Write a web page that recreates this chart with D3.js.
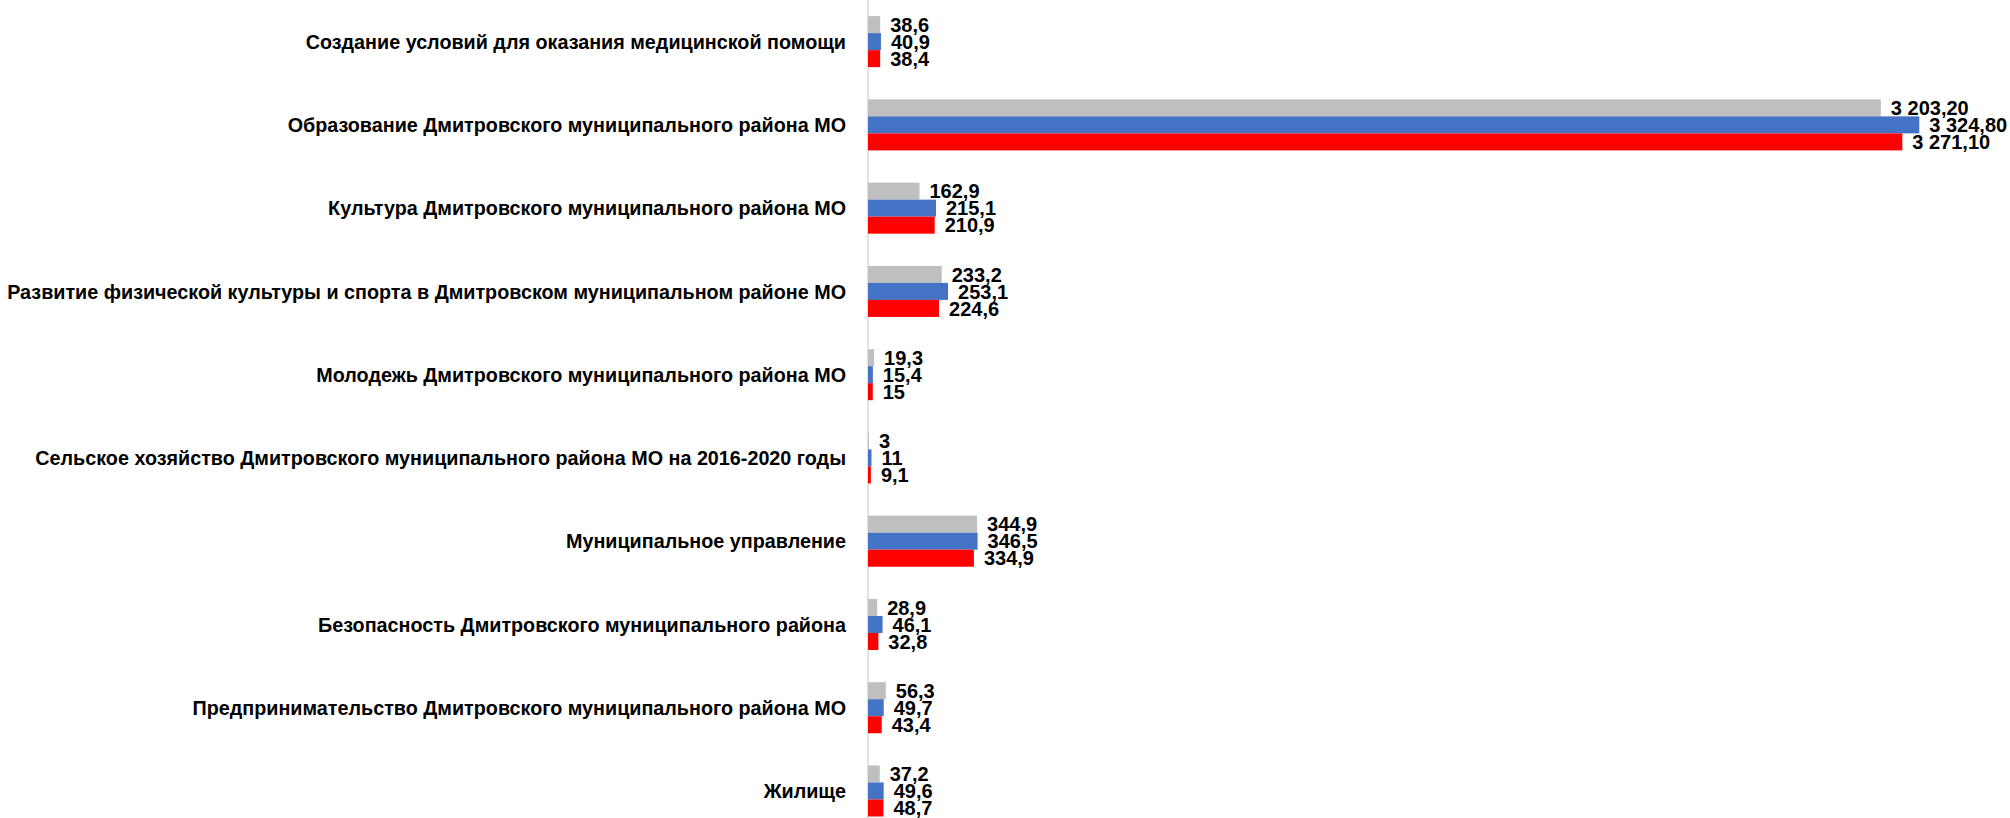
<!DOCTYPE html>
<html>
<head>
<meta charset="utf-8">
<script src="https://cdn.jsdelivr.net/npm/d3@7"></script>
<style>
  html, body { margin: 0; padding: 0; background: #ffffff; }
  svg { display: block; }
  text { font-family: "Liberation Sans", Arial, sans-serif; font-weight: bold; fill: #000; }
</style>
</head>
<body>
<svg id="chart" width="2010" height="818"></svg>
<script>
const categories = [
  "Создание условий для оказания медицинской помощи",
  "Образование Дмитровского муниципального района МО",
  "Культура Дмитровского муниципального района МО",
  "Развитие физической культуры и спорта в Дмитровском муниципальном районе МО",
  "Молодежь Дмитровского муниципального района МО",
  "Сельское хозяйство Дмитровского муниципального района МО на 2016-2020 годы",
  "Муниципальное управление",
  "Безопасность Дмитровского муниципального района",
  "Предпринимательство Дмитровского муниципального района МО",
  "Жилище"
];
const seriesNames = ["Серия 1", "Серия 2", "Серия 3"];
const seriesColors = ["#BFBFBF", "#4472C4", "#FF0000"];
const series1 = [38.6, 3203.2, 162.9, 233.2, 19.3, 3, 344.9, 28.9, 56.3, 37.2];
const series2 = [40.9, 3324.8, 215.1, 253.1, 15.4, 11, 346.5, 46.1, 49.7, 49.6];
const series3 = [38.4, 3271.1, 210.9, 224.6, 15, 9.1, 334.9, 32.8, 43.4, 48.7];
const seriesValues = [series1, series2, series3];

const svg = d3.select("#chart");
const x0 = 868;
const x = d3.scaleLinear().domain([0, 1000]).range([x0, x0 + 316.2]);
const y = d3.scaleBand().domain(categories).range([0, 832.6]).paddingInner(0.387).paddingOuter(0.1935);
const ySub = d3.scaleBand().domain(seriesNames).range([0, y.bandwidth()]);

const locale = d3.formatLocale({ decimal: ",", thousands: "\u00a0", grouping: [3], currency: ["", ""] });
const fmtBig = locale.format(",.2f");
const fmt = v => v >= 1000 ? fmtBig(v) : String(v).replace(".", ",");

// axis line
svg.append("line")
  .attr("x1", x(0)).attr("x2", x(0))
  .attr("y1", 0).attr("y2", 818)
  .attr("stroke", "#D9D9D9").attr("stroke-width", 1.5);

const data = [];
categories.forEach((c, i) => {
  seriesNames.forEach((s, j) => {
    data.push({ cat: c, ser: s, v: seriesValues[j][i], color: seriesColors[j] });
  });
});

svg.append("g").selectAll("rect").data(data).join("rect")
  .attr("x", x(0))
  .attr("y", d => y(d.cat) + ySub(d.ser))
  .attr("width", d => x(d.v) - x(0))
  .attr("height", ySub.bandwidth())
  .attr("fill", d => d.color);

svg.append("g").selectAll("text").data(data).join("text")
  .attr("x", d => x(d.v) + 10)
  .attr("y", d => y(d.cat) + ySub(d.ser) + ySub.bandwidth() / 2)
  .attr("dy", "0.36em")
  .attr("font-size", 20)
  .text(d => fmt(d.v));

// category labels
const yAxis = d3.axisLeft(y).tickSize(0).tickPadding(0);
const ga = svg.append("g").attr("transform", `translate(${x0 - 22},0)`).call(yAxis);
ga.select(".domain").remove();
ga.selectAll("text")
  .attr("font-size", 19.75)
  .attr("font-family", "Liberation Sans, Arial, sans-serif")
  .attr("font-weight", "bold")
  .attr("fill", "#000")
  .attr("dy", "0.36em");
</script>
</body>
</html>
